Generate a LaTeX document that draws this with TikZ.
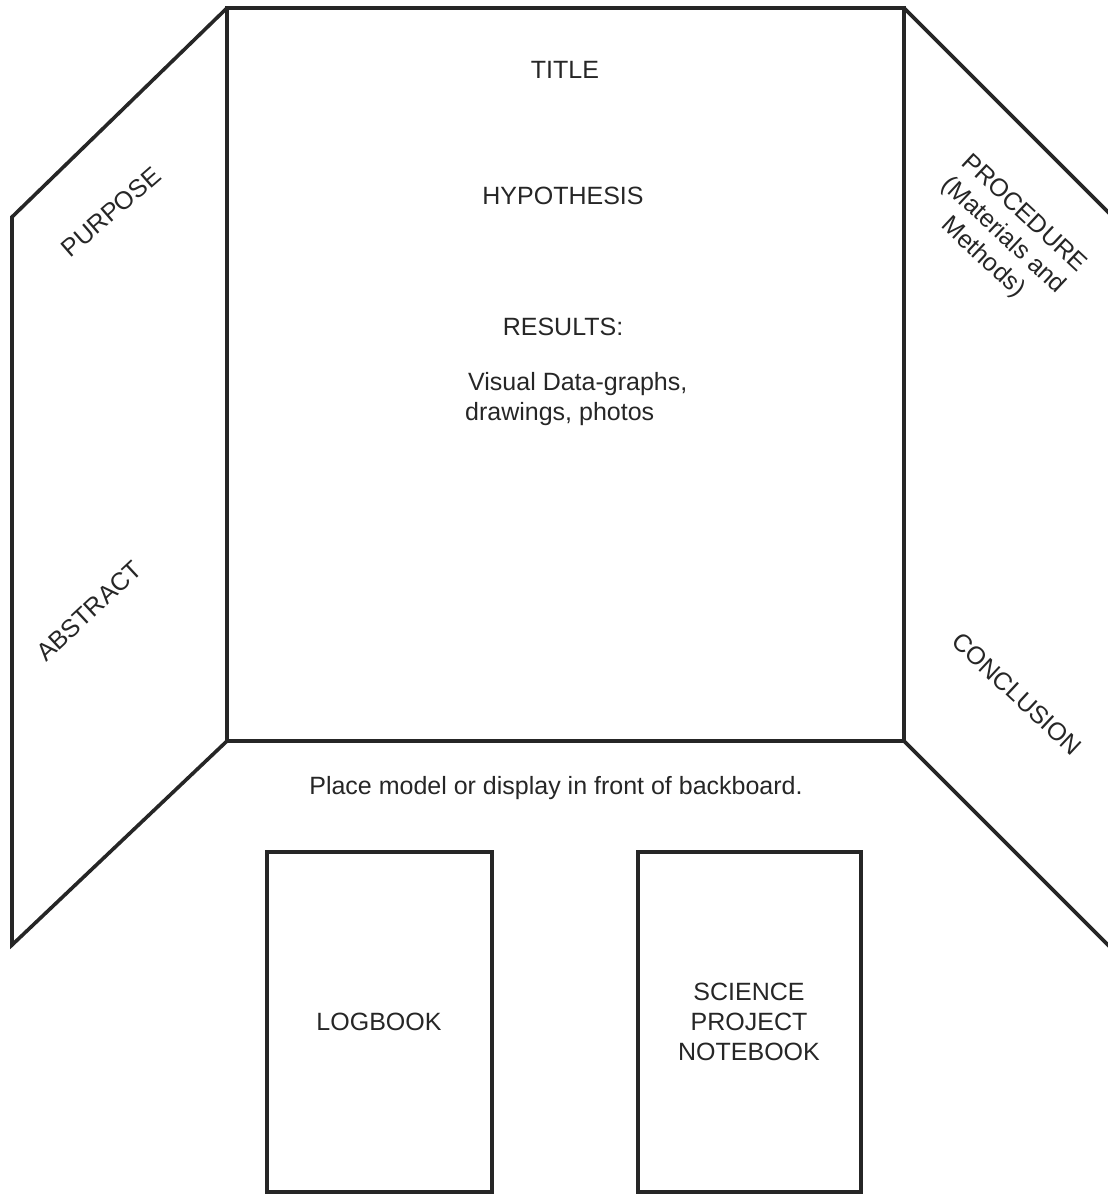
\documentclass[tikz,border=0pt]{standalone}
\usepackage{fontspec}
\setmainfont{Liberation Sans}
\begin{document}
\begin{tikzpicture}[x=1pt, y=-1pt,
    board/.style={line width=3.6pt, draw=black!85, line join=miter},
    lbl/.style={font=\fontsize{25}{30}\selectfont, text=black!85, inner sep=0pt, align=center}
  ]
  \useasboundingbox (0,0) rectangle (1108,1194);

  % corners of the backboard
  \coordinate (ctl) at (227, 8);
  \coordinate (ctr) at (904, 8);
  \coordinate (cbl) at (227, 741);
  \coordinate (cbr) at (904, 741);
  \coordinate (ltop) at (12, 217);
  \coordinate (lbot) at (12, 945);
  \coordinate (rtop) at (1110, 214);
  \coordinate (rbot) at (1110, 947);

  \draw[board]
    (ctl) -- (ctr) -- (cbr) -- (cbl) -- cycle
  ;

  \draw[board]
    (ctl) -- (ltop) -- (lbot) -- (cbl)
    (ctr) -- (rtop)
    (cbr) -- (rbot)
  ;

  % the two books in front
  \draw[board]
    (267, 852) rectangle (492, 1192)
    (638, 852) rectangle (861, 1192)
  ;

  \node[lbl] (title) at (565, 70) {TITLE};
  \node[lbl] (hyp) at (563, 196) {HYPOTHESIS};
  \node[lbl] (res) at (563, 327) {RESULTS:};
  \node[lbl, align=left, anchor=west] (visual) at (465, 399)
    {\hspace*{3pt}Visual Data-graphs,\\drawings, photos};

  \node[lbl, rotate=41] (purpose) at (111, 212) {PURPOSE};
  \node[lbl, rotate=43] (abstract) at (89, 611) {ABSTRACT};
  \node[lbl, rotate=-43] (proc) at (1003, 236)
    {PROCEDURE\\(Materials and\\Methods)};
  \node[lbl, rotate=-43] (concl) at (1017, 694) {CONCLUSION};

  \node[lbl] (place) at (556, 788) {Place model or display in front of backboard.};

  \node[lbl] (logbook) at (379, 1022) {LOGBOOK};
  \node[lbl] (notebook) at (749, 1022) {SCIENCE\\PROJECT\\NOTEBOOK};
\end{tikzpicture}
\end{document}
